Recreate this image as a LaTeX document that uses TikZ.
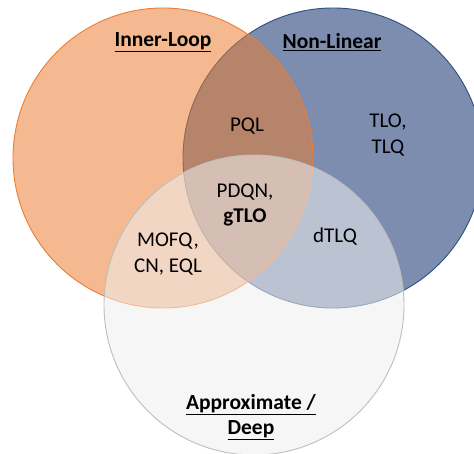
\documentclass[tikz,border=0pt]{standalone}
\usepackage{fontspec}
\setmainfont{Carlito}
\usepackage{tikz}
\usetikzlibrary{shapes, positioning}
\definecolor{loopline}{RGB}{237,125,49}
\definecolor{loopfill}{RGB}{234,123,47}
\definecolor{linline}{RGB}{44,80,128}
\definecolor{linfill}{RGB}{125,141,176}
\definecolor{deepline}{RGB}{190,190,190}
\definecolor{deepfill}{RGB}{239,239,239}
\tikzstyle{set} = [circle, minimum size=300pt, inner sep=0pt, line width=0.9pt]
\tikzstyle{title} = [font=\fontsize{21.5}{25.5}\selectfont\bfseries, align=center]
\tikzstyle{member} = [font=\fontsize{21}{25.5}\selectfont, align=center]

\begin{document}
\begin{tikzpicture}[x=1pt, y=-1pt]
    \useasboundingbox (0,0) rectangle (474,454);
    % Sets
    \node [set, draw=linline, fill=linfill] (nonlin) at (333,158) {};
    \node [set, draw=loopline, fill=loopfill, fill opacity=0.53] (inner) at (163,158) {};
    \node [set, draw=deepline, fill=deepfill, fill opacity=0.55] (approx) at (254,305) {};
    % Titles
    \node [title] (innertitle) at (163,42) {\underline{Inner-Loop}};
    \node [title] (nonlintitle) at (332,42) {\underline{Non-Linear}};
    \node [title] (approxtitle) at (251,417) {\underline{Approximate /}\\\underline{Deep}};
    % Members
    \node [member] (pql) at (247,126) {PQL};
    \node [member] (tlo) at (388,135) {TLO,\\TLQ};
    \node [member] (pdqn) at (245,205) {PDQN,\\\textbf{gTLO}};
    \node [member] (mofq) at (168,254) {MOFQ,\\CN, EQL};
    \node [member] (dtlq) at (335,237) {dTLQ};
\end{tikzpicture}
\end{document}
